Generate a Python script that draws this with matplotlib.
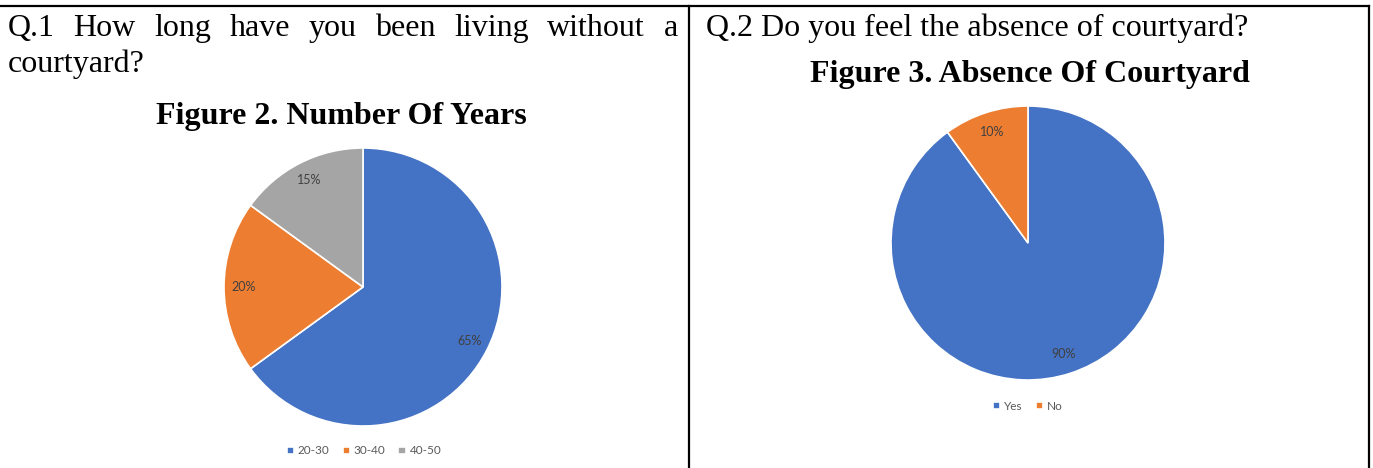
import matplotlib
matplotlib.use("Agg")
from matplotlib import pyplot as plt
from matplotlib.lines import Line2D

# Figure 2 data
years_labels = ['20-30', '30-40', '40-50']
years_values = [65, 20, 15]

# Figure 3 data
absence_labels = ['Yes', 'No']
absence_values = [90, 10]

colors = ['#4472C4', '#ED7D31', '#A5A5A5']

q1_line1 = "Q.1 How long have you been living without a"
q1_line2 = "courtyard?"
q2_text = "Q.2 Do you feel the absence of courtyard?"
title1 = "Figure 2. Number Of Years"
title2 = "Figure 3. Absence Of Courtyard"

W, H = 1373, 468
fig = plt.figure(figsize=(W / 100, H / 100), dpi=100)


def px(x, y):
    # pixel (from top-left) -> figure fraction
    return x / W, 1 - y / H


serif = 'Liberation Serif'
qsize = 23

# table borders
fig.add_artist(Line2D([0, 1369 / W], [1 - 6 / H] * 2, color='black', lw=1.6))
fig.add_artist(Line2D([689 / W] * 2, [1 - 6 / H, 0], color='black', lw=1.6))
fig.add_artist(Line2D([1369 / W] * 2, [1 - 6 / H, 0], color='black', lw=1.6))

# question 1, first line justified between x=8 and x=678
words = q1_line1.split()
txts = [fig.text(0, 1 - 36 / H, w, fontsize=qsize, family=serif, va='baseline')
        for w in words]
fig.canvas.draw()
r = fig.canvas.get_renderer()
widths = [t.get_window_extent(r).width for t in txts]
gap = (678 - 8 - sum(widths)) / (len(words) - 1)
x = 8
for t, w in zip(txts, widths):
    t.set_x(x / W)
    x += w + gap

fig.text(*px(8, 72), q1_line2, fontsize=qsize, family=serif, va='baseline')
fig.text(*px(706, 36), q2_text, fontsize=qsize, family=serif, va='baseline')
fig.text(*px(341, 124), title1, fontsize=qsize, family=serif, weight='bold',
         va='baseline', ha='center')
fig.text(*px(1030, 82), title2, fontsize=qsize, family=serif, weight='bold',
         va='baseline', ha='center')


def pie_axes(cx, cy, rad):
    ax = fig.add_axes([(cx - rad) / W, 1 - (cy + rad) / H, 2 * rad / W, 2 * rad / H])
    ax.axis('off')
    return ax


ax1 = pie_axes(363, 287, 139)
w1, _, at1 = ax1.pie(years_values, colors=colors, startangle=90, counterclock=False,
                     radius=1, autopct='%d%%', pctdistance=0.86,
                     wedgeprops={'edgecolor': 'white', 'linewidth': 1.2},
                     textprops={'fontsize': 9, 'color': '#404040', 'family': 'Lato'})
ax1.set_xlim(-1, 1)
ax1.set_ylim(-1, 1)

ax2 = pie_axes(1028, 243, 137)
w2, _, at2 = ax2.pie(absence_values, colors=colors[:2], startangle=90, counterclock=False,
                     radius=1, autopct='%d%%', pctdistance=0.85,
                     wedgeprops={'edgecolor': 'white', 'linewidth': 1.2},
                     textprops={'fontsize': 9, 'color': '#404040', 'family': 'Lato'})
ax2.set_xlim(-1, 1)
ax2.set_ylim(-1, 1)

leg_kw = dict(loc='center', ncol=3, frameon=False, handlelength=0.6, handleheight=0.6,
              handletextpad=0.35, columnspacing=1.1,
              prop={'family': 'Lato', 'size': 8.5}, labelcolor='#595959')
fig.legend(w1, years_labels, bbox_to_anchor=px(364, 451), **leg_kw)
fig.legend(w2, absence_labels, bbox_to_anchor=px(1028, 406), **leg_kw)

fig.savefig('out.png', dpi=100)
